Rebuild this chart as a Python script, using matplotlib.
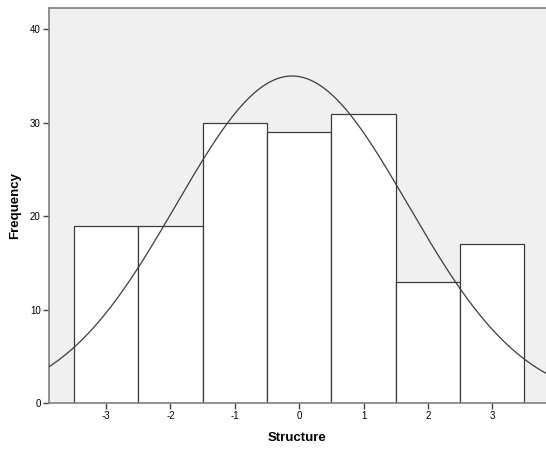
import numpy as np
import matplotlib
matplotlib.use("Agg")
import matplotlib.pyplot as plt

plt.rcParams['font.family'] = ['Liberation Sans', 'DejaVu Sans']

bin_centers = [-3, -2, -1, 0, 1, 2, 3]
counts = [19, 19, 30, 29, 31, 13, 17]
x_ticks = [-3, -2, -1, 0, 1, 2, 3]
y_ticks = [0, 10, 20, 30, 40]
fit_mean = -0.11
fit_sd = 1.80
n_total = sum(counts)
bin_width = 1.0

fig = plt.figure(figsize=(5.46, 4.5), dpi=100)
ax = fig.add_axes([49/546, 47/450, 1.0 - 49/546, (403-8)/450])
ax.set_facecolor('#F0F0F0')

ax.bar(bin_centers, counts, width=bin_width, color='white', edgecolor='#3c3c3c',
       linewidth=0.9, zorder=2)

xs = np.linspace(-4.0, 4.0, 400)
ys = n_total * bin_width / (fit_sd * np.sqrt(2*np.pi)) * np.exp(-0.5*((xs-fit_mean)/fit_sd)**2)
ax.plot(xs, ys, color='#3c3c3c', linewidth=0.9, zorder=3)

ax.set_xlim(-3.886, 3.834)
ax.set_ylim(0, 42.3)
ax.set_xticks(x_ticks)
ax.set_xticklabels([str(t) for t in x_ticks])
ax.set_yticks(y_ticks)
ax.tick_params(axis='both', labelsize=7, length=4, width=1, color='#444444', pad=2)
for s in ['left', 'bottom', 'top']:
    ax.spines[s].set_color('#808080')
    ax.spines[s].set_linewidth(1.2)
ax.spines['right'].set_visible(False)

ax.set_xlabel('Structure', fontsize=9.5, fontweight='bold', labelpad=8)
ax.set_ylabel('Frequency', fontsize=9.5, fontweight='bold', labelpad=6)

fig.savefig('out.png', dpi=100)
